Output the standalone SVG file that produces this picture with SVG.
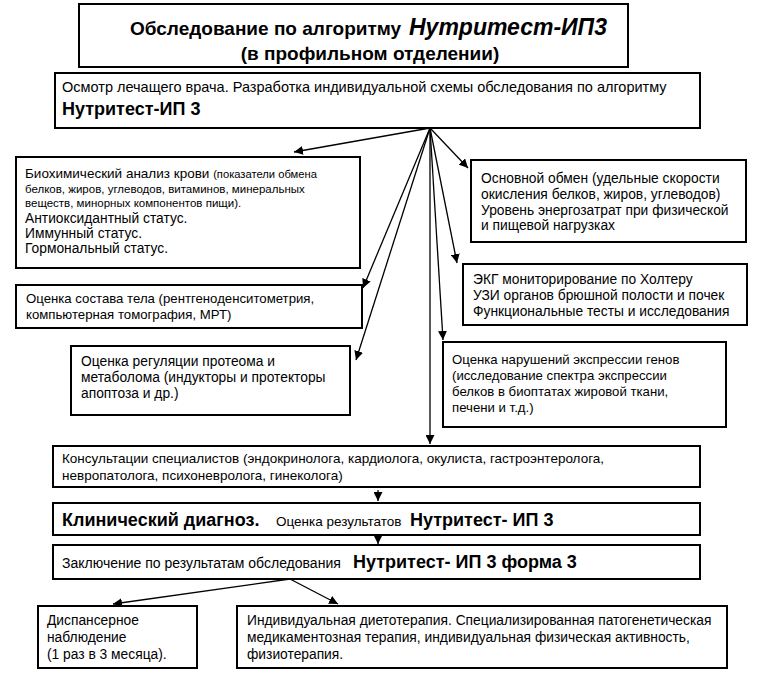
<svg xmlns="http://www.w3.org/2000/svg" width="772" height="675" viewBox="0 0 772 675">
<style>
text{font-family:"Liberation Sans",Arial,sans-serif;fill:#000}
.box{fill:#fff;stroke:#000;stroke-width:2}
.t{font-size:13.8px}
.m{font-size:13.5px}
.g{font-size:13.2px}
.xs{font-size:11.5px}
.b{font-weight:bold}
.con{stroke:#000;stroke-width:1.3;fill:none;marker-end:url(#ah)}
</style>
<defs>
<marker id="ah" viewBox="0 0 10 10" refX="10" refY="5" markerWidth="9" markerHeight="9" markerUnits="userSpaceOnUse" orient="auto">
<path d="M0,0 L10,5 L0,10 z" fill="#000"/>
</marker>
</defs>
<rect width="772" height="675" fill="#fff"/>
<g id="connectors">
<line class="con" x1="430" y1="128" x2="294" y2="152"/>
<line class="con" x1="430" y1="128" x2="363" y2="288"/>
<line class="con" x1="430" y1="128" x2="356" y2="360"/>
<line class="con" x1="430" y1="128" x2="430" y2="444"/>
<line class="con" x1="430" y1="128" x2="443" y2="340"/>
<line class="con" x1="430" y1="128" x2="457" y2="263"/>
<line class="con" x1="430" y1="128" x2="468" y2="168"/>
<line class="con" x1="378" y1="490" x2="378" y2="501"/>
<line class="con" x1="378" y1="535" x2="378" y2="544"/>
<line class="con" x1="290" y1="579" x2="113" y2="604"/>
<line class="con" x1="290" y1="579" x2="338" y2="604"/>
</g>
<g id="title">
<rect class="box" x="79" y="4" width="549" height="63"/>
<text y="35" class="b"><tspan x="130" font-size="19">Обследование по алгоритму</tspan><tspan x="409" font-size="23" font-style="italic">Нутритест-ИП3</tspan></text>
<text x="370" y="60" text-anchor="middle" class="b" font-size="19">(в профильном отделении)</text>
</g>
<g id="exam">
<rect class="box" x="55" y="73" width="645" height="55"/>
<text x="62" y="92" font-size="14.5">Осмотр лечащего врача. Разработка индивидуальной схемы обследования по алгоритму</text>
<text x="62" y="115" class="b" font-size="18">Нутритест-ИП 3</text>
</g>
<g id="biochem">
<rect class="box" x="16" y="157" width="344" height="111"/>
<text x="25" y="178"><tspan font-size="13.5">Биохимический анализ крови </tspan><tspan font-size="11.2">(показатели обмена</tspan></text>
<text x="25" y="193" class="xs">белков, жиров, углеводов, витаминов, минеральных</text>
<text x="25" y="207" class="xs">веществ, минорных компонентов пищи).</text>
<text x="25" y="223" class="t">Антиоксидантный статус.</text>
<text x="25" y="238" class="t">Иммунный статус.</text>
<text x="25" y="253" class="t">Гормональный статус.</text>
</g>
<g id="basal">
<rect class="box" x="471" y="160" width="275" height="82"/>
<text x="481" y="183" class="t">Основной обмен (удельные скорости</text>
<text x="481" y="199" class="t">окисления белков, жиров, углеводов)</text>
<text x="481" y="215" class="t">Уровень энергозатрат при физической</text>
<text x="481" y="230" class="t">и пищевой нагрузках</text>
</g>
<g id="ecg">
<rect class="box" x="463" y="264" width="284" height="61"/>
<text x="473" y="284" class="t">ЭКГ мониторирование по Холтеру</text>
<text x="473" y="300" class="t">УЗИ органов брюшной полости и почек</text>
<text x="473" y="316" class="t">Функциональные тесты и исследования</text>
</g>
<g id="body">
<rect class="box" x="16" y="285" width="346" height="43"/>
<text x="26" y="303" class="g">Оценка состава тела (рентгеноденситометрия,</text>
<text x="26" y="319" class="g">компьютерная томография, МРТ)</text>
</g>
<g id="proteome">
<rect class="box" x="71" y="346" width="279" height="69"/>
<text x="81" y="366" class="t">Оценка регуляции протеома и</text>
<text x="81" y="382" class="t">метаболома (индукторы и протекторы</text>
<text x="81" y="398" class="t">апоптоза и др.)</text>
</g>
<g id="genes">
<rect class="box" x="443" y="342" width="283" height="85"/>
<text x="452" y="364" class="g">Оценка нарушений экспрессии генов</text>
<text x="452" y="380" class="g">(исследование спектра экспрессии</text>
<text x="452" y="396" class="g">белков в биоптатах жировой ткани,</text>
<text x="452" y="412" class="g">печени и т.д.)</text>
</g>
<g id="consult">
<rect class="box" x="53" y="446" width="647" height="41"/>
<text x="62" y="463" class="m">Консультации специалистов (эндокринолога, кардиолога, окулиста, гастроэнтеролога,</text>
<text x="62" y="480" class="m">невропатолога, психоневролога, гинеколога)</text>
</g>
<g id="diagnosis">
<rect class="box" x="53" y="503" width="647" height="32"/>
<text y="526"><tspan x="62" class="b" font-size="18">Клинический диагноз.</tspan><tspan x="276" class="m">Оценка результатов</tspan><tspan x="410" class="b" font-size="18">Нутритест- ИП 3</tspan></text>
</g>
<g id="conclusion">
<rect class="box" x="53" y="545" width="647" height="34"/>
<text y="568"><tspan x="62" font-size="14">Заключение по результатам обследования</tspan><tspan x="353" class="b" font-size="18">Нутритест- ИП 3 форма 3</tspan></text>
</g>
<g id="dispensary">
<rect class="box" x="38" y="606" width="159" height="62"/>
<text x="47" y="625" class="t">Диспансерное</text>
<text x="47" y="642" class="t">наблюдение</text>
<text x="47" y="659" class="t">(1 раз в 3 месяца).</text>
</g>
<g id="therapy">
<rect class="box" x="237" y="606" width="490" height="62"/>
<text x="247" y="625" class="t">Индивидуальная диетотерапия. Специализированная патогенетическая</text>
<text x="247" y="642" class="t">медикаментозная терапия, индивидуальная физическая активность,</text>
<text x="247" y="659" class="t">физиотерапия.</text>
</g>
</svg>
